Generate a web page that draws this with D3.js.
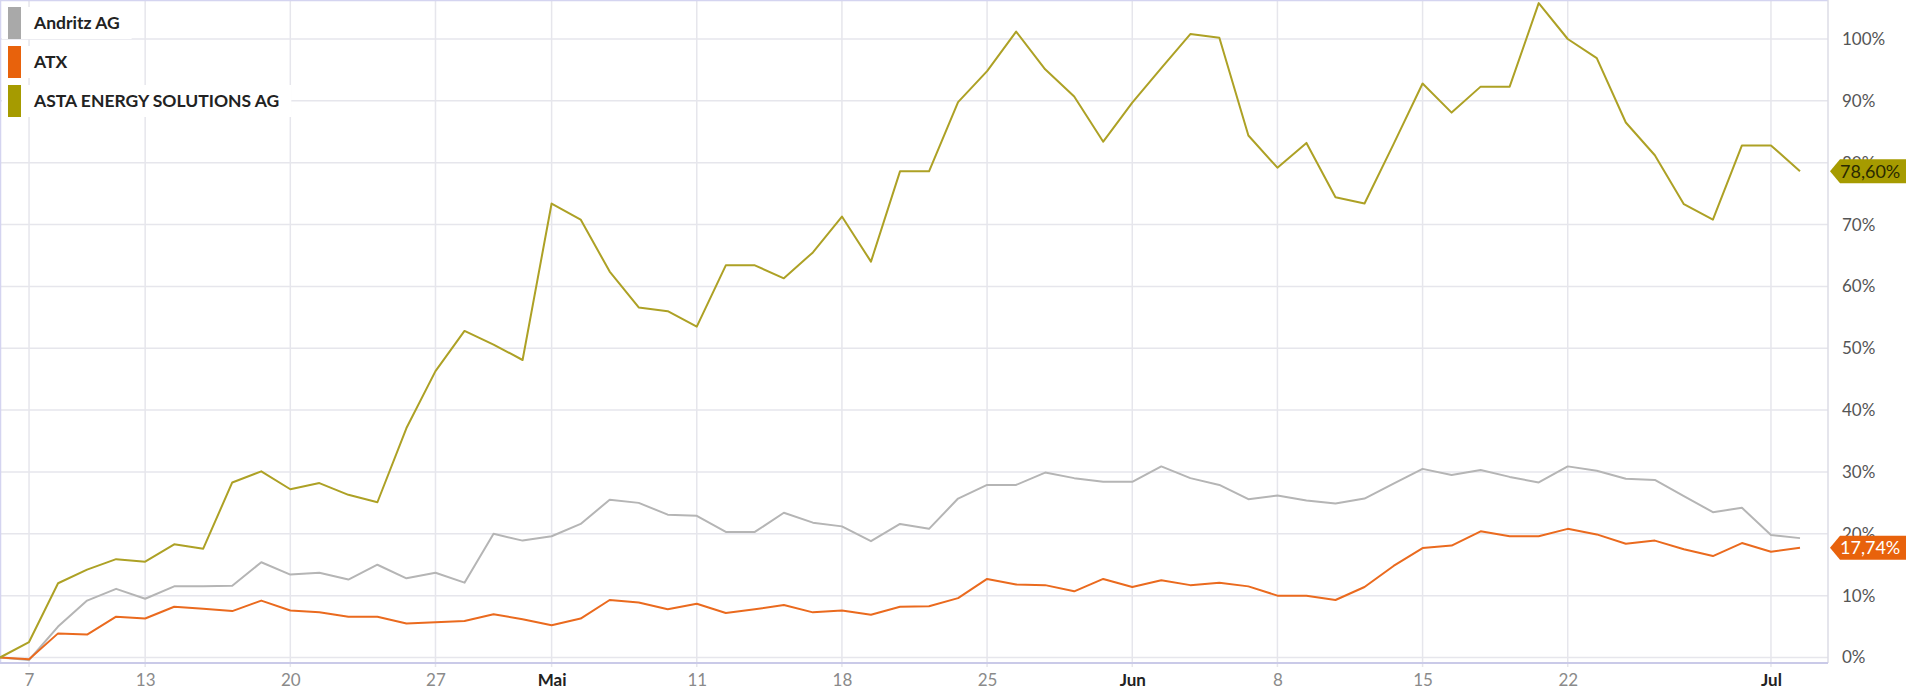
<!DOCTYPE html>
<html>
<head>
<meta charset="utf-8">
<script src="https://cdn.jsdelivr.net/npm/d3@7"></script>
<style>
  html, body { margin: 0; padding: 0; background: #fff; }
  svg { display: block; font-family: Lato, 'Open Sans', sans-serif; }
</style>
</head>
<body>
<div id="chart"></div>
<script>
// trading days, Apr 6 - Jul 2 2020 (May 1 closed)
const dates = [
  '2020-04-06','2020-04-07','2020-04-08','2020-04-09','2020-04-10',
  '2020-04-13','2020-04-14','2020-04-15','2020-04-16','2020-04-17',
  '2020-04-20','2020-04-21','2020-04-22','2020-04-23','2020-04-24',
  '2020-04-27','2020-04-28','2020-04-29','2020-04-30',
  '2020-05-04','2020-05-05','2020-05-06','2020-05-07','2020-05-08',
  '2020-05-11','2020-05-12','2020-05-13','2020-05-14','2020-05-15',
  '2020-05-18','2020-05-19','2020-05-20','2020-05-21','2020-05-22',
  '2020-05-25','2020-05-26','2020-05-27','2020-05-28','2020-05-29',
  '2020-06-01','2020-06-02','2020-06-03','2020-06-04','2020-06-05',
  '2020-06-08','2020-06-09','2020-06-10','2020-06-11','2020-06-12',
  '2020-06-15','2020-06-16','2020-06-17','2020-06-18','2020-06-19',
  '2020-06-22','2020-06-23','2020-06-24','2020-06-25','2020-06-26',
  '2020-06-29','2020-06-30','2020-07-01','2020-07-02'
];

// performance in %
const andritz = [
  0, -0.4, 5.0, 9.2, 11.1, 9.5, 11.5, 11.5, 11.6, 15.4,
  13.4, 13.7, 12.6, 15.0, 12.8, 13.7, 12.1, 20.0, 18.9,
  19.6, 21.6, 25.5, 25.0, 23.1, 22.9, 20.3, 20.3, 23.4, 21.8,
  21.2, 18.8, 21.6, 20.8, 25.7, 27.9, 27.9, 29.9, 29.0, 28.4,
  28.4, 30.9, 29.0, 27.9, 25.6, 26.2, 25.4, 24.9, 25.7, 28.1,
  30.5, 29.5, 30.3, 29.2, 28.3, 30.9, 30.2, 28.9, 28.7, 26.1,
  23.5, 24.2, 19.8, 19.3
];
const atx = [
  0, -0.3, 3.9, 3.7, 6.6, 6.3, 8.2, 7.9, 7.5, 9.2,
  7.6, 7.3, 6.6, 6.6, 5.5, 5.7, 5.9, 7.0, 6.2,
  5.2, 6.3, 9.3, 8.9, 7.8, 8.7, 7.2, 7.8, 8.5, 7.3,
  7.6, 6.9, 8.2, 8.3, 9.6, 12.7, 11.8, 11.7, 10.7, 12.7,
  11.4, 12.5, 11.7, 12.1, 11.5, 10.0, 10.0, 9.3, 11.4, 14.8,
  17.7, 18.1, 20.4, 19.6, 19.6, 20.8, 19.9, 18.4, 18.9, 17.5,
  16.4, 18.5, 17.1, 17.74
];
const asta = [
  0, 2.5, 12.0, 14.2, 15.9, 15.5, 18.3, 17.6, 28.3, 30.1,
  27.2, 28.2, 26.3, 25.1, 37.1, 46.3, 52.8, 50.6, 48.1,
  73.4, 70.8, 62.4, 56.6, 56.0, 53.5, 63.4, 63.4, 61.3, 65.5,
  71.3, 64.0, 78.6, 78.6, 89.8, 94.8, 101.2, 95.1, 90.7, 83.4,
  89.7, 95.3, 100.8, 100.2, 84.4, 79.2, 83.2, 74.4, 73.4, 83.0,
  92.8, 88.1, 92.3, 92.3, 105.8, 100.0, 96.9, 86.5, 81.2, 73.3,
  70.8, 82.8, 82.8, 78.6
];

const seriesNames = ['Andritz AG', 'ATX', 'ASTA ENERGY SOLUTIONS AG'];
const seriesColors = ['#b5b5b5', '#ea6a1e', '#ada125'];
const swatchColors = ['#a9a9a9', '#e8620c', '#a69b00'];

const tickDates = ['2020-04-07','2020-04-13','2020-04-20','2020-04-27','2020-05-04',
  '2020-05-11','2020-05-18','2020-05-25','2020-06-01','2020-06-08','2020-06-15',
  '2020-06-22','2020-07-01'];
const tickLabels = ['7','13','20','27','Mai','11','18','25','Jun','8','15','22','Jul'];
const monthTicks = ['Mai','Jun','Jul'];
const yTicks = [0, 10, 20, 30, 40, 50, 60, 70, 80, 90, 100];

const width = 1920, height = 700;
const plot = { left: 0, right: 1828, top: 1, bottom: 663 };

const svg = d3.select('#chart').append('svg')
  .attr('width', width)
  .attr('height', height);

const x = d3.scalePoint()
  .domain(dates)
  .range([0, 1800]);

const y = d3.scaleLinear()
  .domain([0, 100])
  .range([657.5, 39]);

// grid
svg.append('g')
  .selectAll('line')
  .data(yTicks)
  .join('line')
  .attr('x1', plot.left).attr('x2', plot.right)
  .attr('y1', d => y(d)).attr('y2', d => y(d))
  .attr('stroke', '#e6e6ec').attr('stroke-width', 1.5);

svg.append('g')
  .selectAll('line')
  .data(tickDates)
  .join('line')
  .attr('x1', d => x(d)).attr('x2', d => x(d))
  .attr('y1', plot.top).attr('y2', plot.bottom + 4)
  .attr('stroke', '#e6e6ec').attr('stroke-width', 1.5);

// frame
svg.append('line').attr('x1', 0.5).attr('x2', 0.5).attr('y1', 0).attr('y2', plot.bottom)
  .attr('stroke', '#d4d4f0').attr('stroke-width', 1.5);
svg.append('line').attr('x1', 0).attr('x2', plot.right).attr('y1', 0.5).attr('y2', 0.5)
  .attr('stroke', '#d4d4f0').attr('stroke-width', 1.5);
svg.append('line').attr('x1', plot.right).attr('x2', plot.right).attr('y1', 0).attr('y2', plot.bottom)
  .attr('stroke', '#dcdce6').attr('stroke-width', 1.5);

// x axis
const labelOf = d3.scaleOrdinal().domain(tickDates).range(tickLabels);
const xAxis = svg.append('g')
  .attr('transform', `translate(0,${plot.bottom})`)
  .call(d3.axisBottom(x).tickValues(tickDates).tickFormat(d => labelOf(d)).tickSize(0).tickPadding(11));
xAxis.select('.domain').attr('stroke', '#cacae8').attr('stroke-width', 2)
  .attr('d', `M0,0H${plot.right}`);
xAxis.selectAll('text')
  .style('font-family', 'Lato, sans-serif')
  .style('font-size', '17px')
  .attr('fill', d => monthTicks.includes(labelOf(d)) ? '#222' : '#8a8a8a')
  .style('font-weight', d => monthTicks.includes(labelOf(d)) ? 'bold' : 'normal');

// y axis
const yAxis = svg.append('g')
  .attr('transform', `translate(${plot.right},0)`)
  .call(d3.axisRight(y).tickValues(yTicks).tickFormat(d => d + '%').tickSize(0).tickPadding(14));
yAxis.select('.domain').remove();
yAxis.selectAll('text')
  .style('font-family', 'Lato, sans-serif')
  .style('font-size', '17px')
  .attr('fill', '#555');

// lines
const allSeries = [andritz, atx, asta];
const line = d3.line()
  .x((d, i) => x(dates[i]))
  .y(d => y(d));

allSeries.forEach((s, k) => {
  svg.append('path')
    .datum(s)
    .attr('fill', 'none')
    .attr('stroke', seriesColors[k])
    .attr('stroke-width', 2)
    .attr('stroke-linejoin', 'round')
    .attr('d', line);
});

// last value tags (they sit over the 80% / 20% labels, as in the source)
const fmt = v => v.toFixed(2).replace('.', ',') + '%';
const tags = [
  { value: asta[asta.length - 1], fill: '#a69b00', text: '#2a2a00' },
  { value: atx[atx.length - 1], fill: '#e8620c', text: '#fff' }
];
tags.forEach(t => {
  const cy = y(t.value);
  const g = svg.append('g').attr('transform', `translate(${plot.right + 2},${cy})`);
  g.append('path')
    .attr('d', 'M0,0 L10,-12 H76 V12 H10 Z')
    .attr('fill', t.fill);
  g.append('text')
    .attr('x', 10).attr('y', 0).attr('dy', '0.35em')
    .style('font-family', 'Lato, sans-serif')
    .style('font-size', '18px')
    .attr('fill', t.text)
    .text(fmt(t.value));
});

// legend
const legend = svg.append('g');
seriesNames.forEach((name, k) => {
  const top = 7 + k * 39;
  const bg = legend.append('rect').attr('x', 2).attr('y', top).attr('height', 32).attr('fill', '#fff');
  legend.append('rect')
    .attr('x', 8).attr('y', top)
    .attr('width', 13).attr('height', 32)
    .attr('fill', swatchColors[k]);
  const t = legend.append('text')
    .attr('x', 34).attr('y', top + 16).attr('dy', '0.35em')
    .style('font-family', 'Lato, sans-serif')
    .style('font-size', '17.5px')
    .style('font-weight', 'bold')
    .attr('fill', '#222')
    .text(name);
  bg.attr('width', 34 + t.node().getComputedTextLength() + 10);
});
</script>
</body>
</html>
